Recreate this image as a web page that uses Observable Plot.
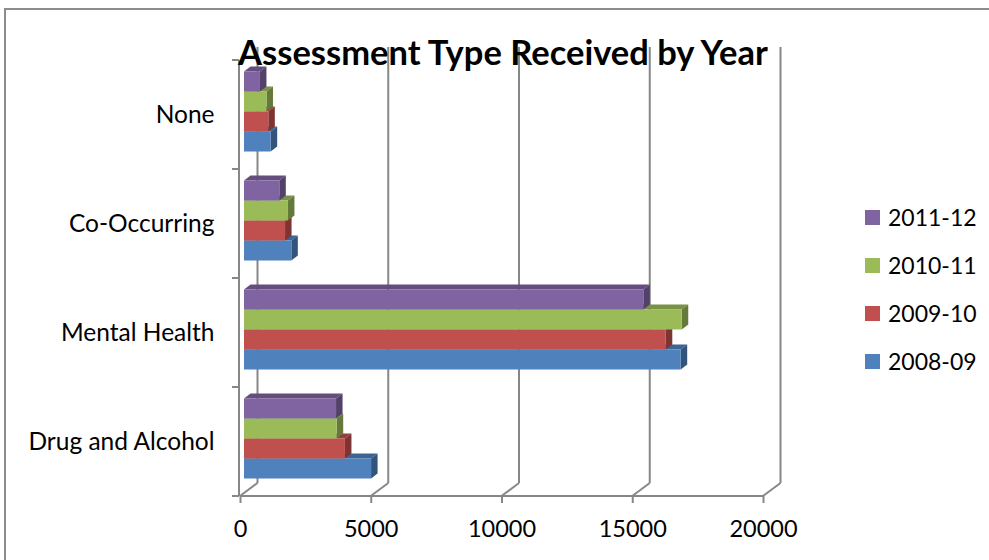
<!DOCTYPE html>
<html><head><meta charset="utf-8">
<script src="https://cdn.jsdelivr.net/npm/d3@7"></script>
<script src="https://cdn.jsdelivr.net/npm/@observablehq/plot@0.6"></script>
<style>
html,body{margin:0;padding:0;background:#fff;overflow:hidden;}
#wrap{position:relative;width:989px;height:560px;overflow:hidden;font-family:Lato, sans-serif;color:#000;}
#chart{position:absolute;left:0;top:0;width:989px;height:560px;}
#chart svg{display:block;}
#title{position:absolute;left:0;width:989px;text-align:center;top:35px;font-weight:bold;font-size:34.5px;line-height:34px;white-space:nowrap;padding-left:17px;box-sizing:border-box;}
.item{position:absolute;left:865px;display:flex;align-items:center;font-size:23px;line-height:28px;white-space:nowrap;}
.sw{width:15px;height:15px;margin-right:8px;}
</style></head>
<body>
<div id="wrap">
  <div id="chart"></div>
  <div id="title">Assessment Type Received by Year</div>
  <div id="legend"></div>
</div>
<script>
const categories = ["None", "Co-Occurring", "Mental Health", "Drug and Alcohol"];
const seriesNames = ["2011-12", "2010-11", "2009-10", "2008-09"]; // top to bottom within a group
const seriesColors = ["#8064A2", "#9BBB59", "#C0504D", "#4F81BD"];
const values2011 = [610, 1350, 15270, 3520];
const values2010 = [860, 1680, 16740, 3545];
const values2009 = [930, 1570, 16130, 3860];
const values2008 = [1020, 1810, 16700, 4860];
const seriesValues = [values2011, values2010, values2009, values2008];
const xTicks = [0, 5000, 10000, 15000, 20000];

const color = Plot.scale({color: {domain: seriesNames, range: seriesColors}});

const wallDepth = {x: 17.5, y: -13};
const barFront = {x: 4, y: -3};
const barDepth = {x: 6.5, y: -5};
const groupPad = 0.133;
const barFrac = 0.1835;
const gridColor = "#878787";

function chartFrame(index, scales, values, dims) {
  return d3.create("svg:path")
    .attr("d", `M5,${dims.height + 5}V9H${dims.width + 5}`)
    .attr("fill", "none").attr("stroke", "#8c8c8c").attr("stroke-width", 2).node();
}

function backWall(index, scales, values, dims) {
  const {x, y} = scales;
  const y0 = dims.marginTop, y1 = dims.height - dims.marginBottom;
  const g = d3.create("svg:g").attr("fill", "none").attr("stroke", gridColor).attr("stroke-width", 2);
  for (const v of xTicks) {
    const xv = x(v);
    g.append("line").attr("x1", xv + wallDepth.x).attr("x2", xv + wallDepth.x)
      .attr("y1", y0 + wallDepth.y).attr("y2", y1 + wallDepth.y);
    g.append("line").attr("x1", xv).attr("y1", y1)
      .attr("x2", xv + wallDepth.x).attr("y2", y1 + wallDepth.y);
  }
  g.append("line").attr("x1", x(0)).attr("x2", x(20000)).attr("y1", y1).attr("y2", y1);
  g.append("line").attr("x1", x(0) - 1).attr("x2", x(0) - 1).attr("y1", y0).attr("y2", y1);
  const bounds = categories.map(c => y(c)).concat([y1]);
  for (const b of bounds) {
    g.append("line").attr("x1", x(0) - 8).attr("x2", x(0) - 1).attr("y1", b).attr("y2", b);
  }
  return g.node();
}

function bars3d(index, scales) {
  const {x, y} = scales;
  const bw = y.bandwidth();
  const g = d3.create("svg:g");
  const poly = (pts, fill) => g.append("polygon").attr("points", pts.map(p => p.join(",")).join(" ")).attr("fill", fill);
  categories.forEach((c, i) => {
    for (let j = seriesNames.length - 1; j >= 0; j--) {
      const v = seriesValues[j][i];
      const base = color.apply(seriesNames[j]);
      const top = d3.color(base).darker(0.7).formatHex();
      const side = d3.color(base).darker(1.2).formatHex();
      const yt = y(c) + bw * groupPad + j * bw * barFrac + barFront.y;
      const yb = yt + bw * barFrac;
      const xa = x(0) + barFront.x, xb = x(v) + barFront.x;
      poly([[xa, yt], [xb, yt], [xb + barDepth.x, yt + barDepth.y], [xa + barDepth.x, yt + barDepth.y]], top);
      poly([[xb, yt], [xb, yb], [xb + barDepth.x, yb + barDepth.y], [xb + barDepth.x, yt + barDepth.y]], side);
      g.append("rect").attr("x", xa).attr("y", yt).attr("width", xb - xa).attr("height", yb - yt).attr("fill", base);
    }
  });
  return g.node();
}

const chart = Plot.plot({
  width: 989, height: 560,
  marginLeft: 240, marginRight: 226, marginTop: 60, marginBottom: 64,
  style: {fontFamily: "Lato, sans-serif", fontSize: "23px", color: "#000", background: "transparent"},
  x: {domain: [0, 20000]},
  y: {type: "band", domain: categories, padding: 0},
  marks: [
    chartFrame,
    backWall,
    Plot.axisX({ticks: xTicks, tickSize: 7, tickPadding: 17, fontSize: 23.5, stroke: gridColor, strokeWidth: 2, fill: "#000", label: null, tickFormat: d => String(d)}),
    Plot.axisY({tickSize: 0, tickPadding: 26, fontSize: 24.5, fill: "#000", label: null}),
    bars3d
  ]
});
document.getElementById("chart").appendChild(chart);

const legend = document.getElementById("legend");
seriesNames.forEach((s, i) => {
  const item = document.createElement("div");
  item.className = "item";
  item.style.top = (217 + i * 48 - 14) + "px";
  const sw = document.createElement("div");
  sw.className = "sw";
  sw.style.background = color.apply(s);
  const t = document.createElement("span");
  t.textContent = s;
  item.appendChild(sw); item.appendChild(t);
  legend.appendChild(item);
});
</script>
</body></html>
